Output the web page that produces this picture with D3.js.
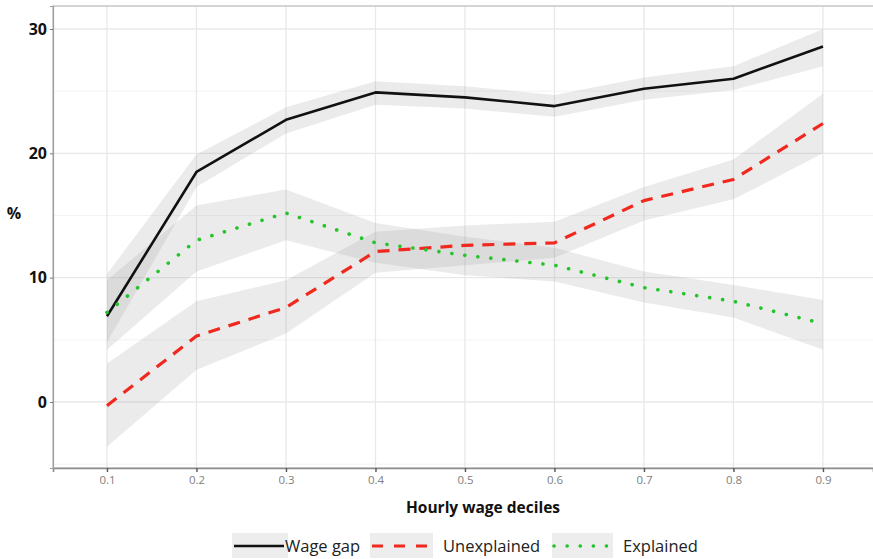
<!DOCTYPE html>
<html>
<head>
<meta charset="utf-8">
<script src="https://cdn.jsdelivr.net/npm/d3@7"></script>
<style>
  html, body { margin: 0; padding: 0; background: #fff; }
  svg { display: block; font-family: "Open Sans", "Noto Sans", sans-serif; }
</style>
</head>
<body>
<svg id="chart" width="873" height="559"></svg>
<script>
// Decile points on the x axis
const deciles = [0.1, 0.2, 0.3, 0.4, 0.5, 0.6, 0.7, 0.8, 0.9];

// Total wage gap (%) with its confidence band
const wageGap   = [6.9, 18.5, 22.7, 24.9, 24.5, 23.8, 25.2, 26.0, 28.6];
const wageGapLo = [4.8, 17.3, 21.6, 23.9, 23.6, 22.95, 24.3, 25.1, 27.0];
const wageGapHi = [10.3, 19.9, 23.7, 25.8, 25.4, 24.7, 26.1, 27.0, 30.0];

// Unexplained part of the gap
const unexplained   = [-0.3, 5.3, 7.6, 12.1, 12.6, 12.8, 16.2, 17.9, 22.4];
const unexplainedLo = [-3.6, 2.6, 5.5, 10.4, 11.0, 11.6, 14.6, 16.3, 20.0];
const unexplainedHi = [3.1, 8.1, 9.8, 13.7, 14.2, 14.5, 17.3, 19.5, 24.8];

// Explained part of the gap
const explained   = [7.2, 13.0, 15.2, 12.8, 11.8, 11.0, 9.2, 8.1, 6.3];
const explainedLo = [4.2, 10.5, 13.0, 11.2, 10.2, 9.7, 8.0, 6.8, 4.2];
const explainedHi = [9.8, 15.8, 17.1, 14.4, 13.3, 12.4, 10.5, 9.4, 8.2];

// Tick values
const xTicks = [0.1, 0.2, 0.3, 0.4, 0.5, 0.6, 0.7, 0.8, 0.9];
const yTicks = [0, 10, 20, 30];
const yMinor = [-5, 5, 15, 25];

const seriesNames = ["Wage gap", "Unexplained", "Explained"];

const svg = d3.select("#chart");

const panel = { left: 53, right: 873, top: 6, bottom: 468 };

const x = d3.scaleLinear().domain([0.0397, 0.9559]).range([panel.left, panel.right]);
const y = d3.scaleLinear().domain([-5.31, 31.85]).range([panel.bottom, panel.top]);

// Panel background and grid
const grid = svg.append("g");
grid.selectAll("line.ymin").data(yMinor.filter(v => y(v) < panel.bottom && y(v) > panel.top))
  .join("line")
  .attr("x1", panel.left).attr("x2", panel.right)
  .attr("y1", d => y(d)).attr("y2", d => y(d))
  .attr("stroke", "#f3f3f3").attr("stroke-width", 1);
grid.selectAll("line.ymaj").data(yTicks)
  .join("line")
  .attr("x1", panel.left).attr("x2", panel.right)
  .attr("y1", d => y(d)).attr("y2", d => y(d))
  .attr("stroke", "#e8e8e8").attr("stroke-width", 1.3);
grid.selectAll("line.xmaj").data(xTicks)
  .join("line")
  .attr("x1", d => x(d)).attr("x2", d => x(d))
  .attr("y1", panel.top).attr("y2", panel.bottom)
  .attr("stroke", "#e8e8e8").attr("stroke-width", 1.3);

// Confidence bands
const rows = (mid, lo, hi) => deciles.map((d, i) => ({ x: d, m: mid[i], lo: lo[i], hi: hi[i] }));
const bandData = [
  rows(wageGap, wageGapLo, wageGapHi),
  rows(unexplained, unexplainedLo, unexplainedHi),
  rows(explained, explainedLo, explainedHi)
];

const area = d3.area().x(d => x(d.x)).y0(d => y(d.lo)).y1(d => y(d.hi));
svg.append("g").selectAll("path").data(bandData).join("path")
  .attr("d", area)
  .attr("fill", "#999999").attr("fill-opacity", 0.2);

// Lines
const line = d3.line().x(d => x(d.x)).y(d => y(d.m));
const styles = [
  { stroke: "#111111", width: 2.6, dash: null, cap: "butt" },
  { stroke: "#f0281e", width: 3.2, dash: "12 9", cap: "butt" },
  { stroke: "#22c42a", width: 3.6, dash: "0.1 13", cap: "round" }
];
svg.append("g").selectAll("path").data(bandData).join("path")
  .attr("d", line)
  .attr("fill", "none")
  .attr("stroke", (d, i) => styles[i].stroke)
  .attr("stroke-width", (d, i) => styles[i].width)
  .attr("stroke-dasharray", (d, i) => styles[i].dash)
  .attr("stroke-linecap", (d, i) => styles[i].cap)
  .attr("stroke-linejoin", "round");

// Panel border
svg.append("rect")
  .attr("x", panel.left).attr("y", panel.top)
  .attr("width", panel.right - panel.left + 2).attr("height", panel.bottom - panel.top)
  .attr("fill", "none").attr("stroke", "#b8b8b8").attr("stroke-width", 1.2);

// X axis
const xAxis = svg.append("g")
  .attr("transform", `translate(0,${panel.bottom})`)
  .call(d3.axisBottom(x).tickValues(xTicks).tickFormat(d3.format(".1f")).tickSize(4).tickPadding(4));
xAxis.select(".domain").attr("stroke", "#8c8c8c").attr("stroke-width", 1.6);
xAxis.selectAll(".tick line").attr("stroke", "#555").attr("stroke-width", 1.4);
xAxis.selectAll(".tick text").attr("fill", "#808080").attr("font-size", 11.5)
  .attr("font-family", "'Open Sans', sans-serif");

// Y axis
const yAxis = svg.append("g")
  .attr("transform", `translate(${panel.left},0)`)
  .call(d3.axisLeft(y).tickValues(yTicks).tickSize(3).tickPadding(3));
yAxis.select(".domain").attr("stroke", "#a0a0a0").attr("stroke-width", 1.2);
yAxis.selectAll(".tick line").attr("stroke", "#777");
yAxis.selectAll(".tick text").attr("fill", "#111").attr("font-size", 16).attr("font-weight", "bold")
  .attr("font-family", "'Open Sans', sans-serif");

// Axis titles
svg.append("text")
  .attr("x", 483).attr("y", 513)
  .attr("text-anchor", "middle")
  .attr("font-size", 15.5).attr("font-weight", "bold").attr("fill", "#111")
  .text("Hourly wage deciles");

svg.append("text")
  .attr("x", 14).attr("y", 219)
  .attr("text-anchor", "middle")
  .attr("font-size", 16).attr("font-weight", "bold").attr("fill", "#111")
  .text("%");

// Legend
const legendItems = [
  { key: [232, 288], textX: 285 },
  { key: [370, 433], textX: 443 },
  { key: [552, 613], textX: 623 }
];
const legendY = 546;
const legend = svg.append("g");
legendItems.forEach((it, i) => {
  legend.append("rect")
    .attr("x", it.key[0]).attr("y", 533)
    .attr("width", it.key[1] - it.key[0]).attr("height", 25)
    .attr("fill", "#ededed");
  legend.append("line")
    .attr("x1", it.key[0] + 2).attr("x2", i === 0 ? it.key[1] - 4 : it.key[1] - 3)
    .attr("y1", legendY).attr("y2", legendY)
    .attr("stroke", styles[i].stroke)
    .attr("stroke-width", styles[i].width)
    .attr("stroke-dasharray", i === 1 ? "11 11" : styles[i].dash)
    .attr("stroke-linecap", styles[i].cap);
  legend.append("text")
    .attr("x", it.textX).attr("y", legendY + 6)
    .attr("font-size", 16.5).attr("fill", "#222")
    .text(seriesNames[i]);
});
</script>
</body>
</html>
